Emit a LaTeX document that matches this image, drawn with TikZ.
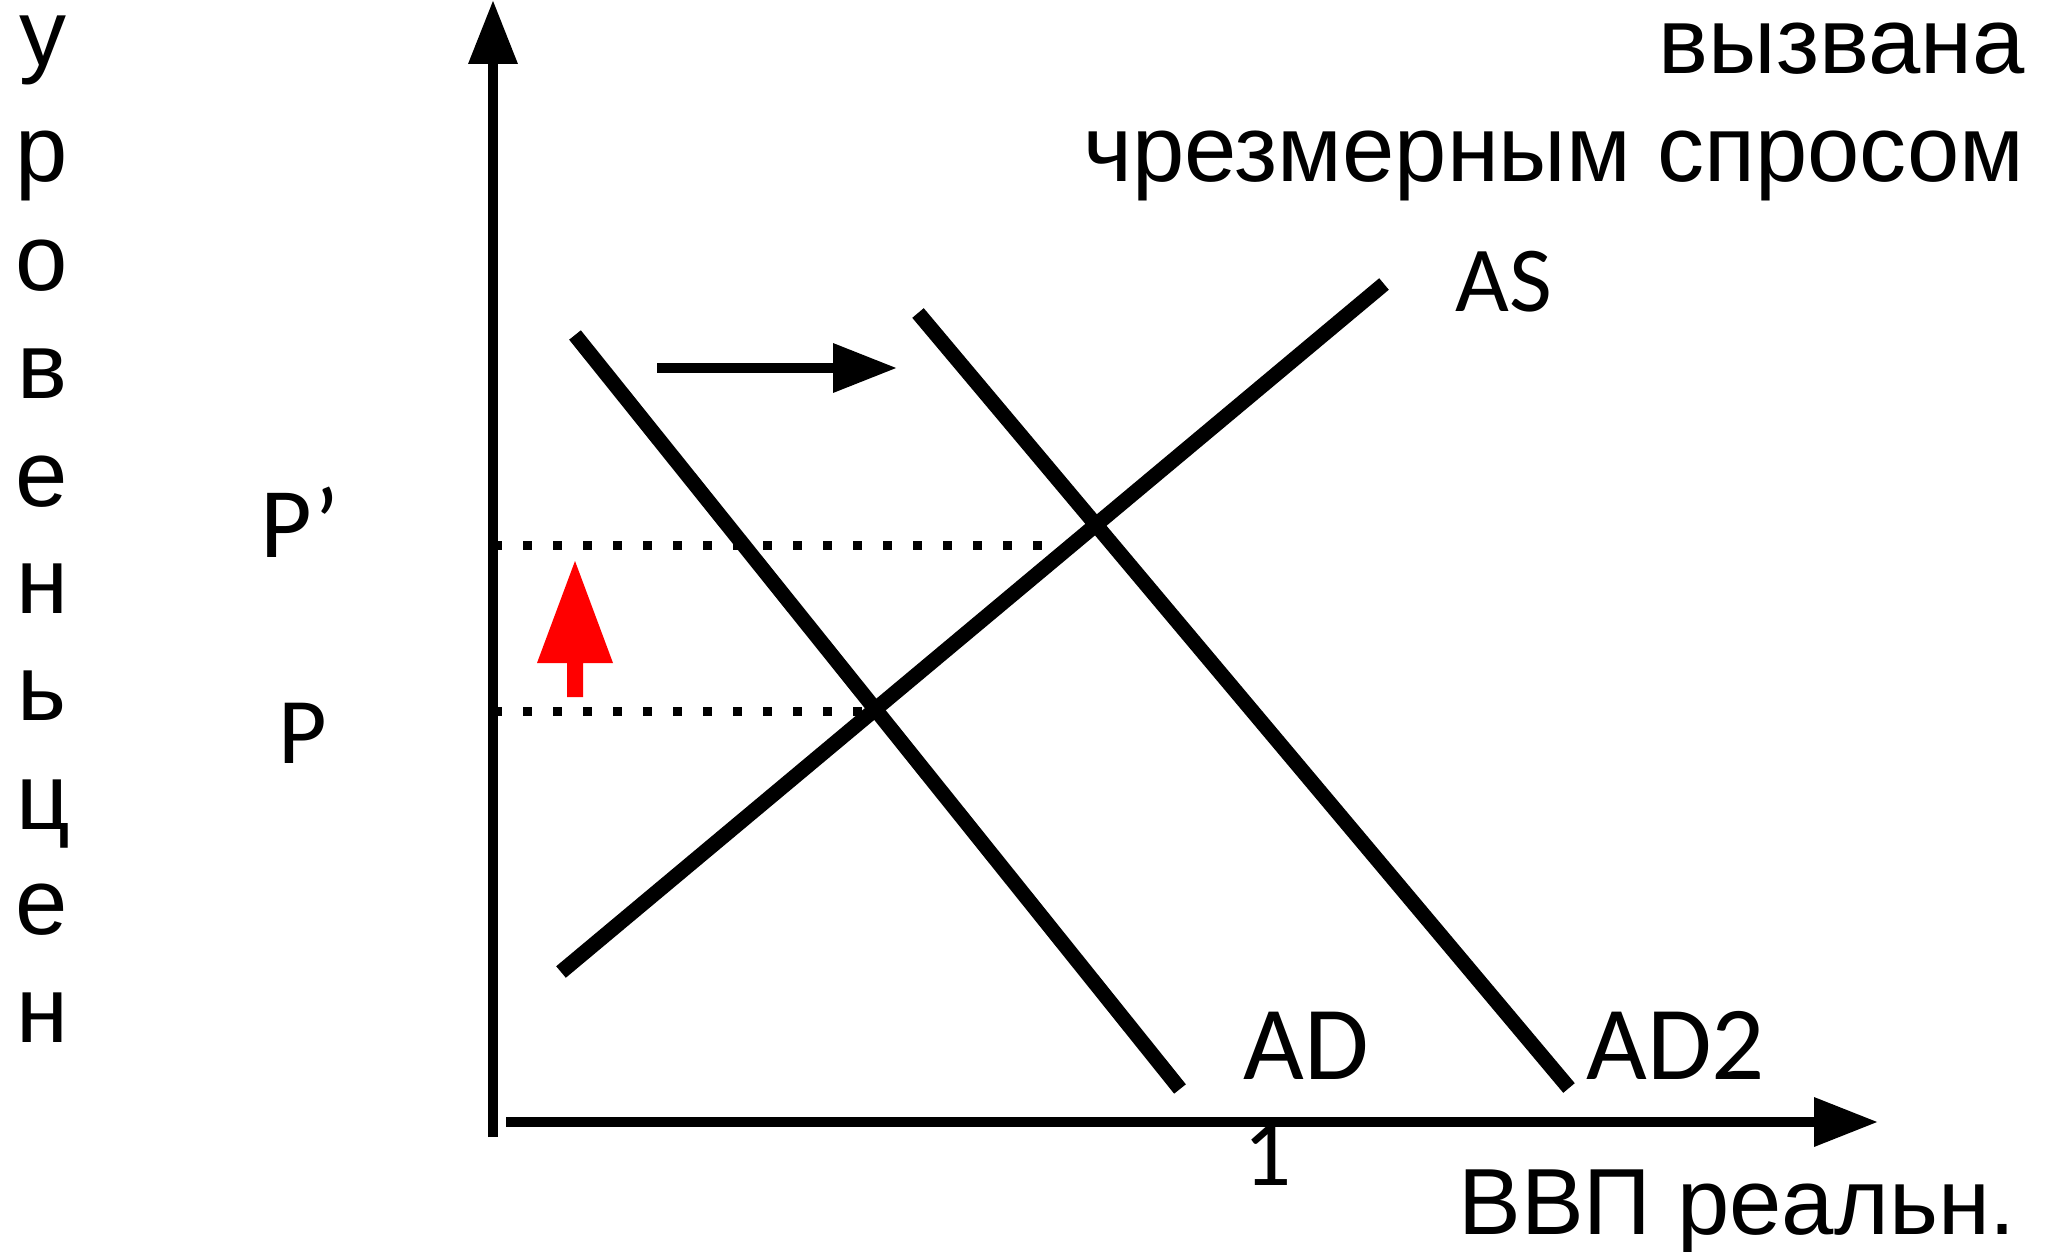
\documentclass[tikz,border=0pt]{standalone}
\usepackage{fontspec}
\setmainfont{Liberation Sans}
\newfontfamily\calib{Carlito}
\usetikzlibrary{arrows.meta}
\tikzset{
  axisline/.style={line width=5pt,-{Triangle[length=32pt,width=23.5pt]}},
  curve/.style={line width=7.5pt},
  dotline/.style={line width=4.5pt,dash pattern=on 4.5pt off 10.5pt},
  shiftarrow/.style={line width=5pt,-{Triangle[length=32pt,width=23.5pt]}},
  ru/.style={inner sep=0pt,font=\fontsize{47}{56}\selectfont},
  lab/.style={inner sep=0pt},
  vlet/.style={inner sep=0pt,anchor=base,font=\fontsize{47}{56}\selectfont}
}
\begin{document}
\begin{tikzpicture}[x=0.5pt,y=-0.5pt]
\useasboundingbox (0,0) rectangle (2045,1252);
% axes
\coordinate (yb) at (493,1137);
\coordinate (yt) at (493,0);
\coordinate (xl) at (506,1122);
\coordinate (xr) at (1878,1122);
\draw[axisline] (yb) -- (yt);
\draw[axisline] (xl) -- (xr);
% dotted guide lines
\coordinate (p1a) at (493,545);
\coordinate (p1b) at (1045,545);
\coordinate (p0a) at (493,711);
\coordinate (p0b) at (865,711);
\draw[dotline] (p1a) -- (p1b);
\draw[dotline] (p0a) -- (p0b);
% curves
\coordinate (ad1) at (575,335);
\coordinate (ad2) at (1180,1089);
\coordinate (adb1) at (918,313);
\coordinate (adb2) at (1569,1088);
\coordinate (as1) at (561,972);
\coordinate (as2) at (1384,284);
\draw[curve] (ad1) -- (ad2);
\draw[curve] (adb1) -- (adb2);
\draw[curve] (as1) -- (as2);
% shift arrow
\coordinate (sa) at (657,368);
\coordinate (sb) at (897,368);
\draw[shiftarrow] (sa) -- (sb);
% red arrow
\fill[red] (567,697) -- (567,663) -- (537,663) -- (575,561) -- (613,663) -- (583,663) -- (583,697) -- cycle;
% labels
\node[lab,anchor=base west,font=\calib\fontsize{46.5}{56}\selectfont] (las) at (1455,311) {AS};
\node[lab,anchor=base west,font=\calib\fontsize{52.5}{63}\selectfont] (lad) at (1243,1079) {AD};
\node[lab,anchor=base west,font=\calib\fontsize{52.5}{63}\selectfont] (lad2) at (1586,1079) {AD2};
\node[lab,anchor=base,font=\calib\fontsize{47.5}{57}\selectfont] (lone) at (1268,1185) {1};
\node[lab,anchor=base west,font=\calib\fontsize{50}{60}\selectfont] (lpp) at (260,557) {P’};
\node[lab,anchor=base west,font=\calib\fontsize{47}{56}\selectfont] (lp) at (278,763) {P};
\node[ru,anchor=base east] (t1) at (2025,74) {вызвана};
\node[ru,anchor=base east] (t2) at (2025,181) {чрезмерным спросом};
\node[ru,anchor=base west] (t3) at (1458,1234) {ВВП реальн.};
% vertical axis label
\node[vlet,text height=25pt] (v1) at (43,66) {у};
\node[vlet] (v2) at (42,182) {р};
\node[vlet] (v3) at (42,290) {о};
\node[vlet] (v4) at (42,398) {в};
\node[vlet] (v5) at (42,506) {е};
\node[vlet] (v6) at (42,613) {н};
\node[vlet] (v7) at (42,720) {ь};
\node[vlet] (v8) at (43,829) {ц};
\node[vlet] (v9) at (42,934) {е};
\node[vlet] (v10) at (42,1042) {н};
\end{tikzpicture}
\end{document}
